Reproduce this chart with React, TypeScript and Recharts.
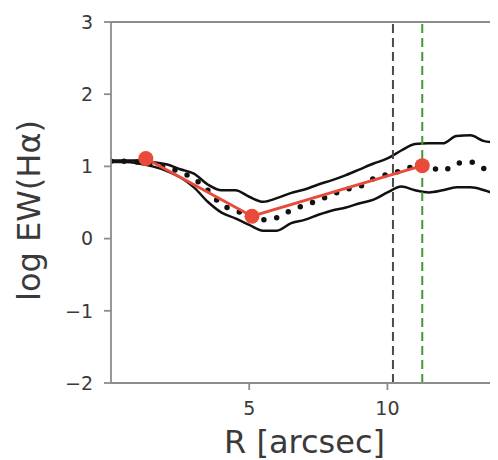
import React from 'react';
import { LineChart, Line, XAxis, YAxis, ReferenceLine } from 'recharts';

// Radial profile grid [arcsec]
const radius = [0, 0.5, 1, 1.5, 2, 2.5, 3, 3.5, 4, 4.5, 5, 5.5, 6, 6.5, 7, 7.5, 8, 8.5, 9, 9.5, 10, 10.5, 11, 11.5, 12, 12.5, 13, 13.5, 14];
// Upper / lower envelope and median of log EW(Hα)
const upperEnv = [1.08, 1.08, 1.08, 1.06, 1.03, 0.96, 0.9, 0.75, 0.67, 0.67, 0.58, 0.51, 0.56, 0.63, 0.68, 0.75, 0.81, 0.88, 0.96, 1.04, 1.11, 1.22, 1.31, 1.32, 1.32, 1.42, 1.43, 1.35, 1.33];
const lowerEnv = [1.06, 1.06, 1.04, 1.0, 0.94, 0.85, 0.71, 0.51, 0.36, 0.28, 0.19, 0.11, 0.11, 0.21, 0.26, 0.33, 0.39, 0.43, 0.49, 0.54, 0.64, 0.72, 0.67, 0.64, 0.67, 0.71, 0.71, 0.67, 0.6];
const medianProfile = [1.07, 1.07, 1.06, 1.03, 0.99, 0.92, 0.83, 0.67, 0.47, 0.39, 0.32, 0.26, 0.29, 0.39, 0.46, 0.53, 0.61, 0.68, 0.72, 0.83, 0.89, 0.94, 1.0, 0.99, 0.94, 1.04, 1.06, 0.97, 0.94];

// Binned measurements
const binRadius = [1.26, 5.1, 11.26];
const binValue = [1.11, 0.31, 1.01];

const yTicks = [-2, -1, 0, 1, 2, 3];
const xTicks = [5, 10];

// Characteristic radii
const rInner = 10.2;
const rOuter = 11.26;

const profileRows = radius.map((r, i) => ({
  r,
  upper: upperEnv[i],
  lower: lowerEnv[i],
  median: medianProfile[i],
}));
const binRows = binRadius.map((r, i) => ({ r, bin: binValue[i] }));

const FONT = '"DejaVu Sans", sans-serif';
const SPINE = '#8c8c8c';
const TEXT = '#3a3a3a';

const fmt = (v: number) => (v < 0 ? `\u2212${Math.abs(v)}` : `${v}`);

export default function App() {
  return (
    <LineChart
      width={490}
      height={452}
      margin={{ top: 14, right: 0, bottom: 0, left: 0 }}
      style={{ fontFamily: FONT }}
    >
      <XAxis
        type="number"
        dataKey="r"
        domain={[0, 14]}
        ticks={xTicks}
        allowDataOverflow
        height={77}
        tickSize={7}
        tickMargin={12}
        stroke={SPINE}
        strokeWidth={1.8}
        tick={{ fill: TEXT, fontSize: 19, fontFamily: FONT }}
        tickLine={{ stroke: SPINE }}
        label={{
          content: (props: any) => {
            const vb = props.viewBox;
            return (
              <text
                x={vb.x + vb.width / 2}
                y={vb.y + 59}
                textAnchor="middle"
                dominantBaseline="central"
                fontSize={32}
                fontFamily={FONT}
                fill={TEXT}
              >
                R [arcsec]
              </text>
            );
          },
        }}
      />
      <YAxis
        type="number"
        domain={[-2, 3]}
        ticks={yTicks}
        width={103}
        tickSize={7}
        tickMargin={11}
        tickFormatter={fmt}
        stroke={SPINE}
        strokeWidth={1.8}
        tick={{ fill: TEXT, fontSize: 19, fontFamily: FONT }}
        tickLine={{ stroke: SPINE }}
        label={{
          content: (props: any) => {
            const vb = props.viewBox;
            const cx = vb.x + 21;
            const cy = vb.y + vb.height / 2 + 8;
            return (
              <text
                x={cx}
                y={cy}
                transform={`rotate(-90 ${cx} ${cy})`}
                textAnchor="middle"
                dominantBaseline="central"
                fontSize={32}
                fontFamily={FONT}
                fill={TEXT}
              >
                log EW(Hα)
              </text>
            );
          },
        }}
      />
      <ReferenceLine y={3} stroke={SPINE} strokeWidth={1.8} />
      <Line
        data={profileRows}
        dataKey="upper"
        stroke="#111"
        strokeWidth={2.5}
        dot={false}
        type="monotone"
        isAnimationActive={false}
      />
      <Line
        data={profileRows}
        dataKey="lower"
        stroke="#111"
        strokeWidth={2.5}
        dot={false}
        type="monotone"
        isAnimationActive={false}
      />
      <Line
        data={profileRows}
        dataKey="median"
        stroke="#111"
        strokeWidth={5.5}
        strokeDasharray="0 13"
        strokeLinecap="round"
        dot={false}
        type="monotone"
        isAnimationActive={false}
      />
      <ReferenceLine x={rInner} stroke="#4a4a4a" strokeWidth={2} strokeDasharray="9 5" />
      <ReferenceLine x={rOuter} stroke="#3f9a2f" strokeWidth={2} strokeDasharray="9 5" />
      <Line
        data={binRows}
        dataKey="bin"
        stroke="#ea4a3a"
        strokeWidth={3}
        dot={{ r: 7.5, fill: '#ea4a3a', stroke: '#ea4a3a', strokeWidth: 0 }}
        isAnimationActive={false}
      />
    </LineChart>
  );
}
